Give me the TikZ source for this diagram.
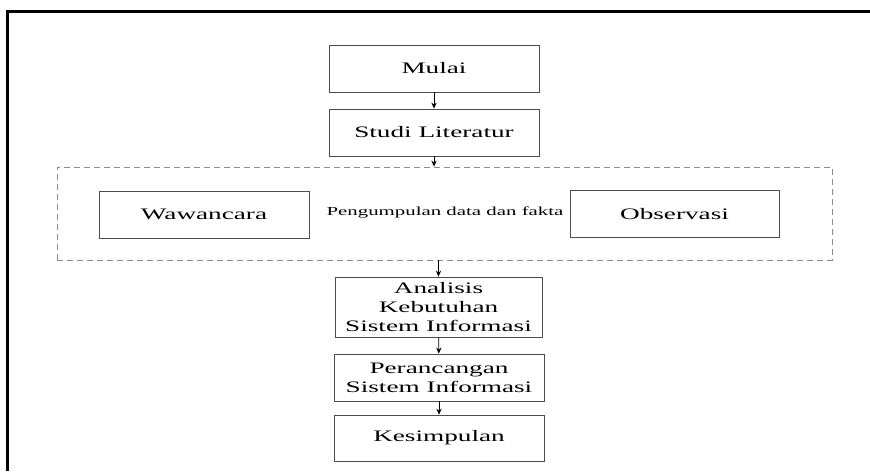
\documentclass[tikz,border=0pt]{standalone}
\usepackage{fontspec}
\setmainfont{Liberation Serif}[FakeStretch=1.7]
\usetikzlibrary{arrows.meta,positioning,fit}

\begin{document}
\begin{tikzpicture}
        [x=0.75pt, y=-0.75pt,
         stepbox/.style={draw=black!70, line width=0.6pt, minimum width=157.5pt,
                         minimum height=35.25pt, align=center, inner sep=0pt,
                         font=\fontsize{12}{14}\selectfont},
         groupbox/.style={draw=black!45, dashed, dash pattern=on 4.5pt off 3pt,
                          line width=0.6pt, minimum width=581.25pt, minimum height=69.75pt},
         post/.style={-{Stealth[length=4.5pt, width=4pt]}, line width=0.6pt}]

        \useasboundingbox (0,0) rectangle (870,471);
        \draw[line width=2.25pt] (870,11) -- (7,11) -- (7,471);

        \node[stepbox] (mulai) at (434,68.5) {Mulai};
        \node[stepbox] (studi) at (434,132.5) {Studi Literatur};

        \node[groupbox] (kumpul) at (444.5,213.5) {};
        \node[stepbox] (wawancara) at (204,214.5) {Wawancara};
        \node[stepbox, minimum width=156.75pt] (observasi) at (674.5,214) {Observasi};
        \node[font=\fontsize{9.2}{11}\selectfont] (kumpul label) at (445,213) {Pengumpulan data dan fakta};

        \node[stepbox, minimum width=155.25pt, minimum height=45pt] (analisis) at (438.5,307)
                {Analisis\\Kebutuhan\\Sistem Informasi};
        \node[stepbox] (perancangan) at (439,377.5) {Perancangan\\Sistem Informasi};
        \node[stepbox, minimum height=34.5pt] (kesimpulan) at (439,438) {Kesimpulan};

        \draw[post] (mulai) -- (studi);
        \draw[post] (studi.south) -- (studi.south |- kumpul.north);
        \draw[post] (analisis.north |- kumpul.south) -- (analisis.north);
        \draw[post] (analisis) -- (perancangan);
        \draw[post] (perancangan) -- (kesimpulan);
\end{tikzpicture}
\end{document}
